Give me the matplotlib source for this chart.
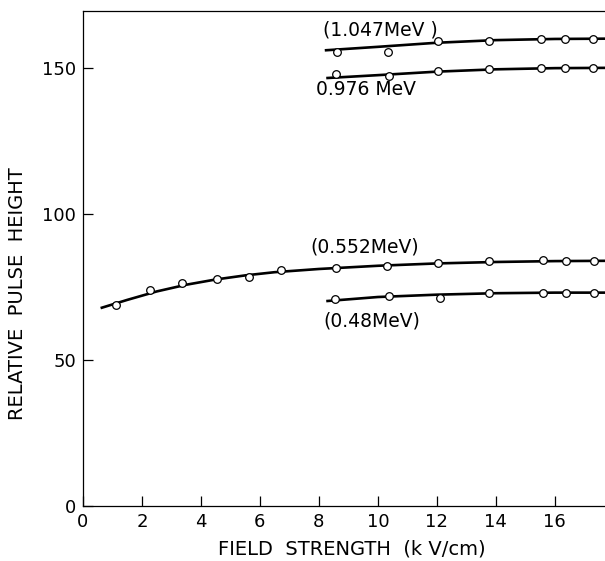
import matplotlib
matplotlib.use("Agg")
import matplotlib.pyplot as plt
import numpy as np

# measured points (field strength kV/cm, relative pulse height)
x_552 = [1.11, 2.26, 3.35, 4.54, 5.64, 6.73, 8.59, 10.3, 12.04, 13.77, 15.59, 16.39, 17.32]
y_552 = [68.9, 74.1, 76.5, 77.6, 78.4, 80.8, 81.5, 82.1, 83.1, 83.9, 84.3, 83.9, 83.9]

x_48 = [8.56, 10.37, 12.09, 13.78, 15.59, 16.39, 17.32]
y_48 = [70.9, 71.9, 71.4, 72.9, 72.9, 73.0, 73.0]

x_1047 = [8.61, 10.34, 12.04, 13.77, 15.52, 16.35, 17.29]
y_1047 = [155.7, 155.7, 159.2, 159.4, 160.1, 160.1, 160.1]

x_976 = [8.59, 10.37, 12.04, 13.77, 15.52, 16.35, 17.29]
y_976 = [148.1, 147.4, 149.1, 149.8, 150.1, 150.1, 150.0]

# hand drawn curves
cx_552 = [0.6, 1.5, 2.5, 3.5, 4.5, 5.5, 6.5, 8.0, 10.0, 12.0, 14.0, 16.0, 17.8]
cy_552 = [67.8, 70.6, 73.5, 75.8, 77.6, 79.0, 80.1, 81.2, 82.3, 83.1, 83.6, 83.9, 84.0]
cx_48 = [8.25, 10.0, 12.0, 14.0, 16.0, 17.8]
cy_48 = [70.2, 71.6, 72.4, 72.9, 73.1, 73.1]
cx_1047 = [8.2, 10.0, 12.0, 14.0, 16.0, 17.8]
cy_1047 = [156.1, 157.3, 158.7, 159.6, 160.0, 160.1]
cx_976 = [8.25, 10.0, 12.0, 14.0, 16.0, 17.8]
cy_976 = [146.6, 147.6, 148.8, 149.6, 150.0, 150.1]

x_ticks = [0, 2, 4, 6, 8, 10, 12, 14, 16]
y_ticks = [0, 50, 100, 150]

fig = plt.figure(figsize=(6.05, 5.61), dpi=100)
ax = fig.add_axes([0.137, 0.098, 0.863, 0.882])

curves = [(cx_552, cy_552), (cx_48, cy_48), (cx_1047, cy_1047), (cx_976, cy_976)]
for cx, cy in curves:
    ax.plot(cx, cy, color="black", lw=1.9, solid_capstyle="butt", zorder=2)

for xs, ys in [(x_552, y_552), (x_48, y_48), (x_1047, y_1047), (x_976, y_976)]:
    ax.plot(xs, ys, "o", ms=5.5, mfc="white", mec="black", mew=0.9, zorder=3)

lab = dict(fontsize=13.5, ha="left", va="center")
ax.text(8.15, 163.0, "(1.047MeV )", **lab)
ax.text(7.9, 142.6, "0.976 MeV", **lab)
ax.text(7.7, 88.9, "(0.552MeV)", **lab)
ax.text(8.15, 63.5, "(0.48MeV)", **lab)

ax.set_xlim(0, 17.7)
ax.set_ylim(0, 169.5)
ax.set_xticks(x_ticks)
ax.set_yticks(y_ticks)
ax.tick_params(direction="in", length=7, width=0.9, labelsize=13, pad=5)
ax.spines["right"].set_visible(False)
for s in ["left", "bottom", "top"]:
    ax.spines[s].set_linewidth(0.9)

ax.set_xlabel("FIELD  STRENGTH  (k V/cm)", fontsize=14)
ax.set_ylabel("RELATIVE  PULSE  HEIGHT", fontsize=14)
ax.xaxis.set_label_coords(0.515, -0.068)
ax.yaxis.set_label_coords(-0.107, 0.43)

fig.savefig("out.png", dpi=100)
